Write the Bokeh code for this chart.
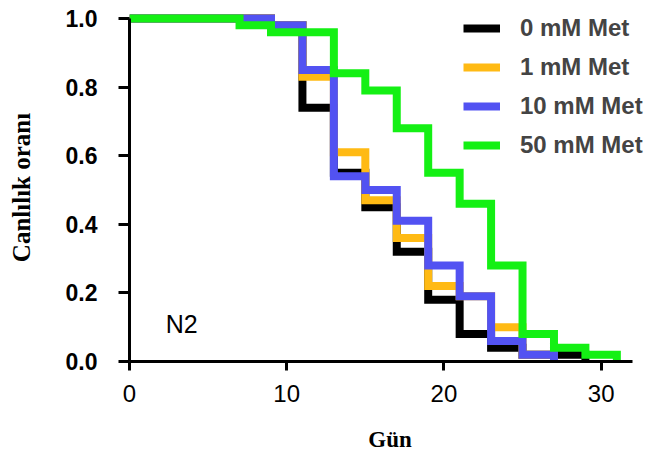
from bokeh.plotting import figure
from bokeh.models import Legend, LegendItem, Label, FixedTicker, Range1d, PrintfTickFormatter
from bokeh.embed import file_html
from bokeh.resources import INLINE

# Data (days, survival fraction)
days_0 = [0, 9, 11, 13, 15, 17, 19, 21, 23, 25, 27, 29]
surv_0 = [1.0, 0.98, 0.74, 0.55, 0.45, 0.32, 0.18, 0.08, 0.04, 0.02, 0.02, 0.0]
days_1 = [0, 9, 11, 13, 15, 17, 19, 21, 23, 25, 27]
surv_1 = [1.0, 0.98, 0.83, 0.61, 0.47, 0.36, 0.22, 0.19, 0.10, 0.02, 0.0]
days_10 = [0, 9, 11, 13, 15, 17, 19, 21, 23, 25, 27]
surv_10 = [1.0, 0.98, 0.85, 0.54, 0.50, 0.41, 0.28, 0.19, 0.06, 0.02, 0.0]
days_50 = [0, 7, 9, 13, 15, 17, 19, 21, 23, 25, 27, 29, 31]
surv_50 = [1.0, 0.98, 0.96, 0.84, 0.79, 0.68, 0.55, 0.46, 0.28, 0.08, 0.04, 0.02, 0.0]
series_names = ["0 mM Met", "1 mM Met", "10 mM Met", "50 mM Met"]
colors = ["#000000", "#FFBA14", "#5252F2", "#14F014"]
x_ticks = [0, 10, 20, 30]
y_ticks = [0.0, 0.2, 0.4, 0.6, 0.8, 1.0]

p = figure(width=659, height=454, output_backend="svg", toolbar_location=None,
           x_range=Range1d(0, 33.14), y_range=Range1d(0, 1.0145),
           min_border_left=129, min_border_right=9, min_border_top=13, min_border_bottom=91)
p.grid.visible = False
p.outline_line_color = None

renderers = []
for xs, ys, c in zip([days_0, days_1, days_10, days_50], [surv_0, surv_1, surv_10, surv_50], colors):
    r = p.step(xs, ys, mode="after", line_color=c, line_width=8, line_join="miter")
    renderers.append(r)

sans = "Liberation Sans"
serif = "Liberation Serif"

p.xaxis.ticker = FixedTicker(ticks=x_ticks)
p.yaxis.ticker = FixedTicker(ticks=y_ticks)
p.yaxis.formatter = PrintfTickFormatter(format="%.1f")
for ax in (p.xaxis[0], p.yaxis[0]):
    ax.axis_line_width = 3
    ax.major_tick_line_width = 3
    ax.minor_tick_line_color = None
    ax.major_tick_in = 0
    ax.major_label_text_font = sans
    ax.major_label_text_font_size = "24px"
    ax.major_label_text_color = "#000000"
    ax.axis_label_text_color = "#000000"
    ax.axis_label_text_font = serif
    ax.axis_label_text_font_style = "bold"
    ax.axis_label_text_font_size = "23px"

p.xaxis.bounds = (-0.5, 32)
p.yaxis.bounds = (0, 1.0)

p.xaxis.major_tick_out = 9
p.xaxis.major_label_standoff = 14
p.xaxis.axis_label = "Gün"
p.xaxis.axis_label_standoff = 22

p.yaxis.major_tick_out = 11
p.yaxis.major_label_standoff = 21
p.yaxis.major_label_text_font_style = "bold"
p.yaxis.major_label_text_font_size = "23px"
p.yaxis.axis_label = "Canlılık oranı"
p.yaxis.axis_label_text_font_size = "25px"
p.yaxis.axis_label_standoff = 28

legend = Legend(items=[LegendItem(label=n, renderers=[r]) for n, r in zip(series_names, renderers)],
                location=(334, 202), padding=0, margin=0, spacing=11,
                glyph_width=37, glyph_height=20, label_standoff=20,
                label_text_font=sans, label_text_font_style="bold", label_text_font_size="24px",
                border_line_color=None, background_fill_alpha=0)
p.add_layout(legend, "center")

p.add_layout(Label(x=2.3, y=0.068, text="N2", text_font=sans, text_font_size="25px",
                   text_color="#000000", text_baseline="bottom"))

open("out.html", "w").write(file_html(p, INLINE))
